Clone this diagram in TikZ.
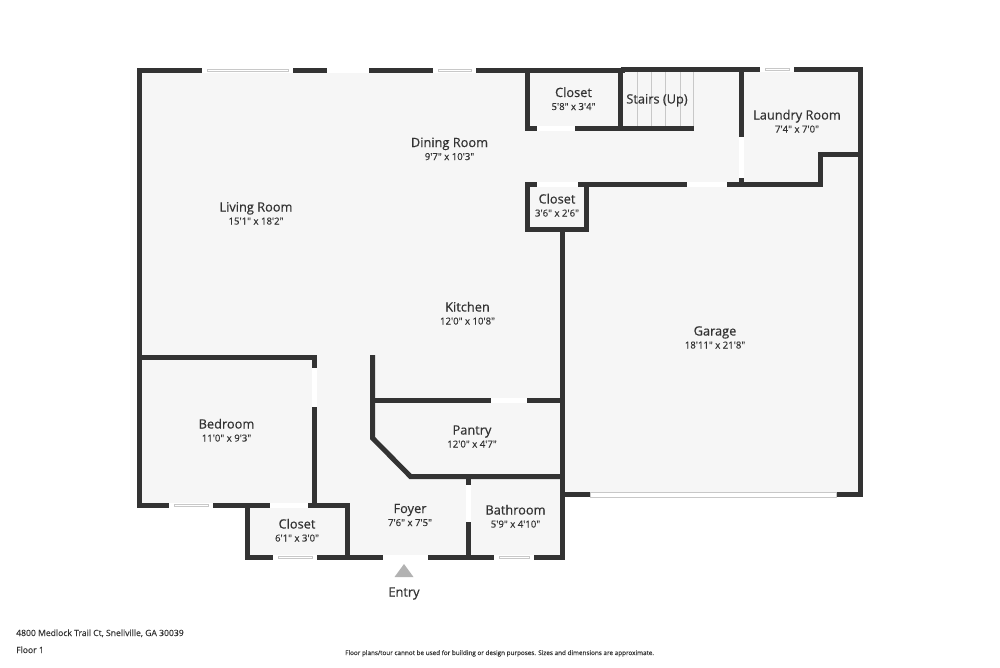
\documentclass[tikz,border=0pt]{standalone}
\usepackage{fontspec}
\newfontfamily\planfont[FakeBold=0.5]{Open Sans}
\newfontfamily\sizefont[FakeBold=0.25]{Open Sans}
\definecolor{wallgray}{HTML}{333333}
\definecolor{floorgray}{HTML}{F6F6F6}
\definecolor{textgray}{HTML}{333333}
\definecolor{edgegray}{HTML}{C8C8C8}
\tikzset{
	wall/.style={draw=wallgray, line width=5pt},
	opening/.style={fill=white, draw=none},
	glazing/.style={fill=white, draw=none, minimum height=5pt, inner sep=0pt, path picture={
		\draw [edgegray, line width=0.7pt]
			([xshift=5pt,yshift=-1.2pt]path picture bounding box.north west) rectangle ([xshift=-5pt,yshift=1.2pt]path picture bounding box.south east);
	}},
	gate/.style={fill=white, draw=edgegray, line width=0.5pt, minimum height=5pt, inner sep=0pt},
	tread/.style={draw=edgegray, line width=0.7pt},
	roomname/.style={text=textgray, inner sep=0pt, anchor=base, font=\planfont\fontsize{12.8}{14}\selectfont},
	roomsize/.style={text=textgray, inner sep=0pt, anchor=base, font=\sizefont\fontsize{9.6}{11}\selectfont},
	footer/.style={text=textgray, inner sep=0pt, anchor=base west, font=\sizefont\fontsize{8.6}{10}\selectfont}
}
\begin{document}
\begin{tikzpicture}[x=1pt, y=-1pt]
	\useasboundingbox (0,0) rectangle (1000,667);
	% floor
	\fill [floorgray] (139,70) -- (860,70) -- (860,495) -- (562,495) -- (562,557) -- (247,557) -- (247,505) -- (139,505) -- cycle;

	% stairs
	\draw [tread] (637,72) -- (637,126);
	\draw [tread] (651,72) -- (651,126);
	\draw [tread] (665,72) -- (665,126);
	\draw [tread] (680,72) -- (680,126);
	\draw [tread] (693.5,72) -- (693.5,126);

	% outer walls
	\draw [wall, line cap=rect] (622,70.5) -- (139.5,70.5) -- (139.5,505.5) -- (247,505.5);
	\draw [wall] (620.5,69.5) -- (860.5,69.5) -- (860.5,494.5) -- (836,494.5);
	\draw [wall] (590,494.5) -- (560,494.5);
	\draw [wall] (245,505.5) -- (349,505.5);
	\draw [wall] (245,557.5) -- (565,557.5);
	\draw [wall] (247,503) -- (247,560);
	\draw [wall] (347,503) -- (347,560);

	% inner walls
	\draw [wall] (527.5,68) -- (527.5,131);
	\draw [wall] (525,128.5) -- (694,128.5);
	\draw [wall] (620.5,68) -- (620.5,131);
	\draw [wall] (741.5,68) -- (741.5,187);
	\draw [wall, line join=miter] (525,184.5) -- (820,184.5) -- (820,154.5) -- (860,154.5);
	\draw [wall, line cap=rect] (527.5,184.5) -- (527.5,229) -- (586.5,229) -- (586.5,184.5);
	\draw [wall] (562.5,229) -- (562.5,560);
	\draw [wall] (139,357.5) -- (314.5,357.5) -- (314.5,505);
	\draw [wall] (372.5,355) -- (372.5,438) -- (410.5,476.5) -- (562,476.5);
	\draw [wall] (372,400) -- (562,400);
	\draw [wall] (468.5,476) -- (468.5,558);

	% windows
	\node [glazing, minimum width=91pt] (livingwin) at (247.5,70.5) {};
	\node [glazing, minimum width=43pt] (diningwin) at (454.5,70.5) {};
	\node [glazing, minimum width=34pt] (laundrywin) at (777,69.5) {};
	\node [glazing, minimum width=44pt] (bedroomwin) at (191,505.5) {};
	\node [glazing, minimum width=44pt] (closetwin) at (295,557.5) {};
	\node [glazing, minimum width=40pt] (bathwin) at (514,557.5) {};

	% doors and openings
	\fill [opening] (327,68) rectangle (369,73);
	\fill [opening] (537,126) rectangle (575,131);
	\fill [opening] (537,182) rectangle (578,187);
	\fill [opening] (687,182) rectangle (727,187);
	\fill [opening] (739,137) rectangle (744,178);
	\fill [opening] (270,503) rectangle (308,508);
	\fill [opening] (312,368) rectangle (317,407);
	\fill [opening] (491,397.5) rectangle (527,402.5);
	\fill [opening] (466,485) rectangle (471,522);
	\fill [opening] (383,555) rectangle (428,560);
	\node [gate, minimum width=246pt] (garagedoor) at (713,494.5) {};

	% entry
	\fill [gray!60] (404,564) -- (413.5,577) -- (394.5,577) -- cycle;
	\node [roomname] (entry) at (404,596.5) {Entry};

	% labels
	\node [roomname] (living) at (256,211.5) {Living Room};
	\node [roomsize] (livingsize) at (256,224.5) {15'1" x 18'2"};
	\node [roomname] (dining) at (449.5,147) {Dining Room};
	\node [roomsize] (diningsize) at (449.5,160) {9'7" x 10'3"};
	\node [roomname] (closeta) at (573.5,97) {Closet};
	\node [roomsize] (closetasize) at (573.5,110) {5'8" x 3'4"};
	\node [roomname] (stairs) at (657,103.5) {Stairs (Up)};
	\node [roomname] (laundry) at (797,119.5) {Laundry Room};
	\node [roomsize] (laundrysize) at (797,132.5) {7'4" x 7'0"};
	\node [roomname] (closetb) at (557,203.5) {Closet};
	\node [roomsize] (closetbsize) at (557,216.5) {3'6" x 2'6"};
	\node [roomname] (kitchen) at (467.5,311.5) {Kitchen};
	\node [roomsize] (kitchensize) at (467.5,324.5) {12'0" x 10'8"};
	\node [roomname] (garage) at (715,335.5) {Garage};
	\node [roomsize] (garagesize) at (715,348.5) {18'11" x 21'8"};
	\node [roomname] (pantry) at (472,434.5) {Pantry};
	\node [roomsize] (pantrysize) at (472,447.5) {12'0" x 4'7"};
	\node [roomname] (bedroom) at (226.5,428.5) {Bedroom};
	\node [roomsize] (bedroomsize) at (226.5,441.5) {11'0" x 9'3"};
	\node [roomname] (closetc) at (297,528.5) {Closet};
	\node [roomsize] (closetcsize) at (297,541.5) {6'1" x 3'0"};
	\node [roomname] (foyer) at (410,513) {Foyer};
	\node [roomsize] (foyersize) at (410,526) {7'6" x 7'5"};
	\node [roomname] (bathroom) at (515.5,514.5) {Bathroom};
	\node [roomsize] (bathroomsize) at (515.5,527.5) {5'9" x 4'10"};

	% footer
	\node [footer] (address) at (16,636) {4800 Medlock Trail Ct, Snellville, GA 30039};
	\node [footer] (floor) at (16,653) {Floor 1};
	\node [footer, font=\sizefont\fontsize{6.35}{8}\selectfont] (note) at (345,655) {Floor plans/tour cannot be used for building or design purposes. Sizes and dimensions are approximate.};
\end{tikzpicture}
\end{document}
